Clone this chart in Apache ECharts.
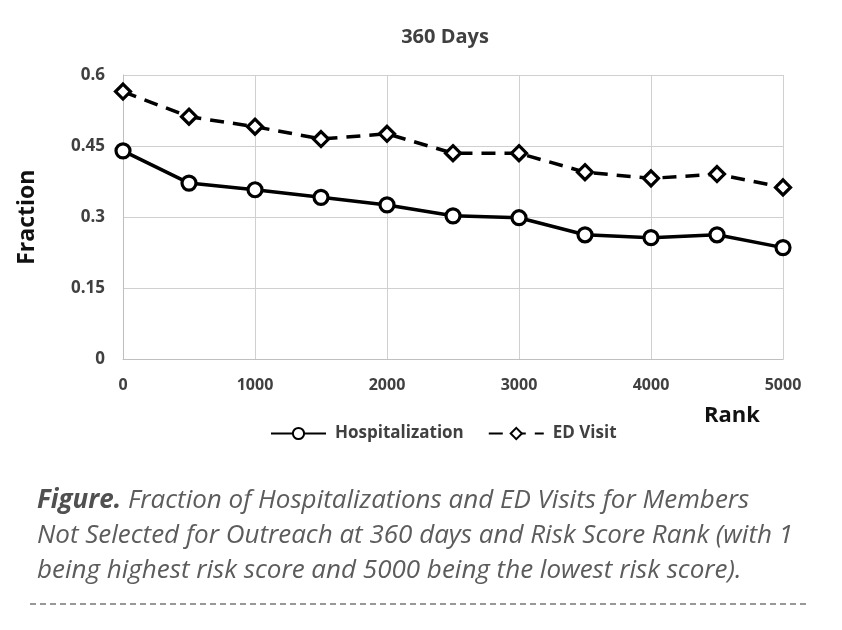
<!DOCTYPE html>
<html>
<head>
<meta charset="utf-8">
<script src="https://cdn.jsdelivr.net/npm/echarts@6/dist/echarts.min.js"></script>
<style>
html,body{margin:0;padding:0;background:#fff;}
#chart{width:842px;height:630px;}
</style>
</head>
<body>
<div id="chart"></div>
<script>
const title = "360 Days";
const ranks = [0, 500, 1000, 1500, 2000, 2500, 3000, 3500, 4000, 4500, 5000];
const hospitalization = [0.440, 0.372, 0.358, 0.342, 0.326, 0.303, 0.299, 0.263, 0.257, 0.263, 0.236];
const edVisit = [0.565, 0.512, 0.491, 0.465, 0.476, 0.435, 0.435, 0.395, 0.382, 0.391, 0.363];
const yTicks = [0, 0.15, 0.3, 0.45, 0.6];
const xTicks = [0, 1000, 2000, 3000, 4000, 5000];

const chart = echarts.init(document.getElementById('chart'));
const pairs = arr => ranks.map((r, i) => [r, arr[i]]);
const font = '"Open Sans", sans-serif';

chart.setOption({
  backgroundColor: '#ffffff',
  animation: false,
  title: {
    text: title, left: 440, top: 22, textAlign: 'center',
    textStyle: {fontFamily: font, fontSize: 20, fontWeight: 'bold', color: '#404040'}
  },
  grid: {left: 123, right: 59, top: 75, bottom: 270.5, containLabel: false},
  legend: {
    left: 265, top: 420, itemWidth: 55, itemHeight: 14, itemGap: 24,
    textStyle: {fontFamily: font, fontSize: 17, fontWeight: 'bold', color: '#404040', padding: [0, 0, 0, 4]},
    data: ['Hospitalization', 'ED Visit']
  },
  xAxis: {
    type: 'value', min: 0, max: 5000, interval: 1000,
    axisLine: {show: true, lineStyle: {color: '#bfbfbf', width: 1}},
    axisTick: {show: false},
    axisLabel: {fontFamily: font, fontSize: 16, fontWeight: 'bold', color: '#404040', margin: 18,
      formatter: v => String(v)},
    splitLine: {show: true, lineStyle: {color: '#d0d0d0', width: 1}}
  },
  yAxis: {
    type: 'value', min: 0, max: 0.6, interval: 0.15,
    name: 'Fraction', nameLocation: 'middle', nameGap: 84, nameRotate: 90,
    nameTextStyle: {fontFamily: font, fontSize: 23, fontWeight: 'bold', color: '#111'},
    axisLine: {show: true, lineStyle: {color: '#bfbfbf', width: 1}},
    axisTick: {show: false},
    axisLabel: {fontFamily: font, fontSize: 17, fontWeight: 'bold', color: '#404040', margin: 18,
      formatter: v => String(v)},
    splitLine: {show: true, lineStyle: {color: '#d0d0d0', width: 1}}
  },
  series: [
    {
      name: 'Hospitalization', type: 'line', data: pairs(hospitalization),
      symbol: 'circle', symbolSize: 14,
      lineStyle: {color: '#000', width: 3.5},
      itemStyle: {color: '#fff', borderColor: '#000', borderWidth: 3.2}
    },
    {
      name: 'ED Visit', type: 'line', data: pairs(edVisit),
      symbol: 'diamond', symbolSize: 15,
      lineStyle: {color: '#000', width: 3.5, type: [14, 9]},
      itemStyle: {color: '#fff', borderColor: '#000', borderWidth: 3.2}
    }
  ],
  graphic: [
    {type: 'text', left: 704, top: 405,
      style: {text: 'Rank', fontFamily: font, fontSize: 22, fontWeight: 'bold', fill: '#111'}},
    {type: 'text', left: 37, top: 483,
      style: {
        text: '{b|Figure.} Fraction of Hospitalizations and ED Visits for Members\nNot Selected for Outreach at 360 days and Risk Score Rank (with 1\nbeing highest risk score and 5000 being the lowest risk score).',
        fontFamily: font, fontSize: 26, fontStyle: 'italic', fontWeight: 400, fill: '#5c5c5c', lineHeight: 35,
        rich: {b: {fontFamily: font, fontSize: 26, fontStyle: 'italic', fontWeight: 'bold', fill: '#505050', lineHeight: 35}}
      }},
    {type: 'line', shape: {x1: 30, y1: 604, x2: 810, y2: 604},
      style: {stroke: '#777', lineWidth: 1.3, lineDash: [6, 4]}}
  ]
});
</script>
</body>
</html>
